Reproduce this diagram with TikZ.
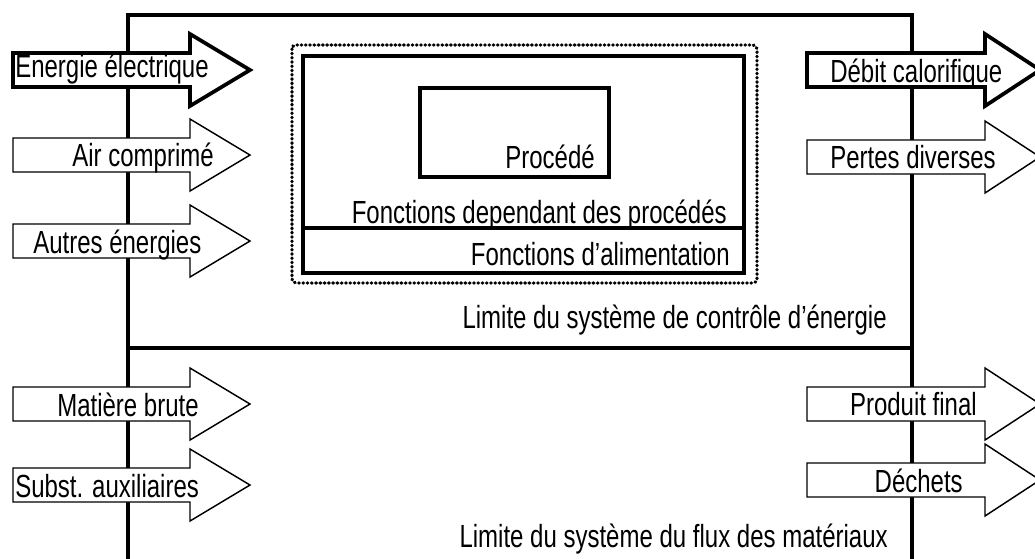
\documentclass[tikz,border=0pt]{standalone}
\usepackage{fontspec}
\setmainfont{Liberation Sans}[FakeStretch=0.75]
\newcommand\flechepath[5]{%
  \path[#1] (#2,#5-17) -- (#3,#5-17) -- (#3,#5-36) -- (#4,#5) -- (#3,#5+36) -- (#3,#5+17) -- (#2,#5+17) -- cycle;}
\begin{document}
\begin{tikzpicture}[x=0.75pt,y=-0.75pt,
  lbl/.style={inner sep=0pt,font=\fontsize{24}{28}\selectfont},
  frame/.style={line width=2.3pt},
  flthin/.style={draw,fill=white,line width=1.1pt,line join=miter},
  flthick/.style={draw,fill=white,line width=2.8pt,line join=miter},
  dotbox/.style={line width=2.6pt,line cap=round,dash pattern=on 0.3pt off 2.9pt,rounded corners=3pt}]
\useasboundingbox (0,0) rectangle (1035,558);
% system frame
\coordinate (tl) at (128,15); \coordinate (tr) at (912,15);
\coordinate (bl) at (128,565); \coordinate (br) at (912,565);
\coordinate (ml) at (128,348); \coordinate (mr) at (912,348);
\draw[frame] (bl) -- (tl) -- (tr) -- (br);
\draw[frame] (ml) -- (mr);
% left arrows
\flechepath{flthick}{13}{190}{250}{70}
\flechepath{flthin}{13}{190}{250}{155}
\flechepath{flthin}{13}{190}{250}{241}
\flechepath{flthin}{13}{190}{250}{404}
\flechepath{flthin}{13}{190}{250}{485}
% right arrows
\flechepath{flthick}{807}{985}{1040}{70}
\flechepath{flthin}{807}{985}{1040}{157}
\flechepath{flthin}{807}{985}{1040}{404}
\flechepath{flthin}{807}{985}{1040}{480}
% arrow labels
\node[lbl,anchor=base west] (t1) at (15,77) {Energie électrique};
\node[lbl,anchor=base east] (t2) at (214,166) {Air comprimé};
\node[lbl,anchor=base west] (t3) at (33,253) {Autres énergies};
\node[lbl,anchor=base west] (t4) at (57,416) {Matière brute};
\node[lbl,anchor=base west] (t5) at (15,497) {Subst. auxiliaires};
\node[lbl,anchor=base west] (t6) at (830,82) {Débit calorifique};
\node[lbl,anchor=base west] (t7) at (830,168) {Pertes diverses};
\node[lbl,anchor=base east] (t8) at (977,415) {Produit final};
\node[lbl,anchor=base east] (t9) at (963,492) {Déchets};
% inner boxes
\draw[dotbox] (292,45) rectangle (757,283);
\draw[frame] (303,56) rectangle (744,273);
\draw[frame] (303,228) -- (744,228);
\draw[frame] (420,88) rectangle (609,177);
\node[lbl,anchor=base east] (proc) at (595,168) {Procédé};
\node[lbl,anchor=base east] (fdp) at (727,223) {Fonctions dependant des procédés};
\node[lbl,anchor=base east] (fal) at (730,265) {Fonctions d’alimentation};
\node[lbl,anchor=base east] (lim1) at (887,328) {Limite du système de contrôle d’énergie};
\node[lbl,anchor=base east] (lim2) at (888,547) {Limite du système du flux des matériaux};
\end{tikzpicture}
\end{document}
